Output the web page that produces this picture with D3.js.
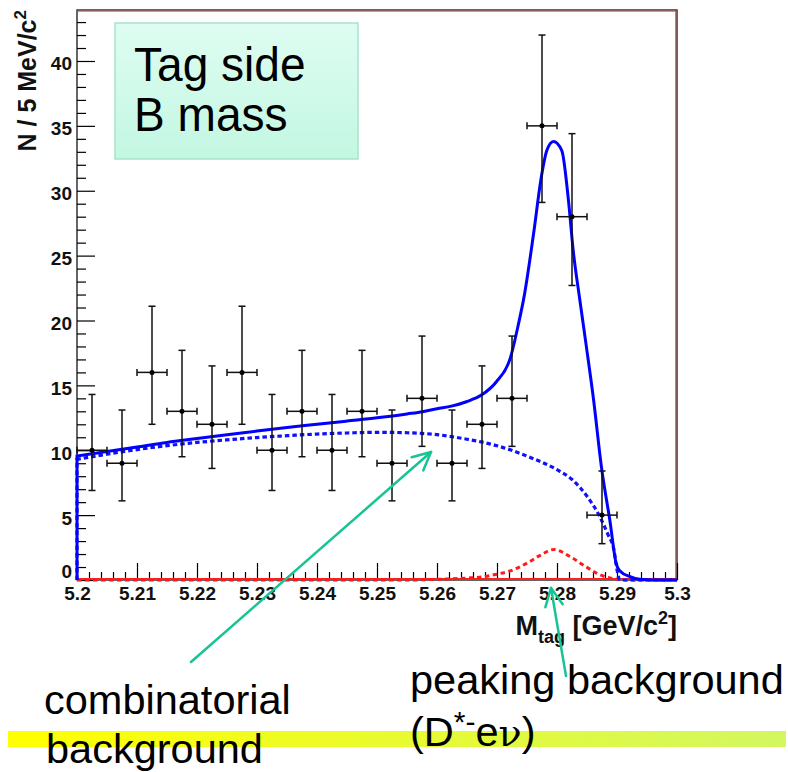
<!DOCTYPE html>
<html>
<head>
<meta charset="utf-8">
<script src="https://cdn.jsdelivr.net/npm/d3@7"></script>
<style>
  body { margin: 0; background: #fff; }
</style>
</head>
<body>
<script>
// data (5 MeV bins)
const binCenters = [5.2025, 5.2075, 5.2125, 5.2175, 5.2225, 5.2275, 5.2325, 5.2375, 5.2425,
    5.2475, 5.2525, 5.2575, 5.2625, 5.2675, 5.2725, 5.2775, 5.2825, 5.2875];
const counts = [10, 9, 16, 13, 12, 16, 10, 13, 10, 13, 9, 14, 9, 12, 14, 35, 28, 5];
const errLow = [6.9, 6.1, 12.0, 9.5, 8.6, 12.0, 6.9, 9.5, 6.9, 9.5, 6.1, 10.3, 6.1, 8.6, 10.3, 29.1, 22.7, 2.8];
const errHigh = [14.3, 13.1, 21.1, 17.7, 16.5, 21.1, 14.3, 17.7, 14.3, 17.7, 13.1, 18.8, 13.1, 16.5, 18.8, 42.0, 34.4, 8.4];
const binWidth = 0.005;

// total fit (solid blue)
const totalFit = [
    [5.2, 9.55], [5.205, 9.9], [5.21, 10.25], [5.215, 10.6], [5.22, 10.9], [5.225, 11.2],
    [5.23, 11.48], [5.235, 11.75], [5.24, 12.0], [5.245, 12.25], [5.25, 12.5], [5.255, 12.8],
    [5.2576, 12.97], [5.26, 13.2], [5.2624, 13.4], [5.2649, 13.74], [5.2674, 14.25],
    [5.2699, 15.28], [5.2722, 17.08], [5.2736, 19.78], [5.2745, 21.8], [5.2761, 26.7],
    [5.2774, 31.1], [5.2783, 33.1], [5.2794, 33.8], [5.2808, 33.1], [5.2819, 29.3],
    [5.2827, 25.4], [5.2838, 21.6], [5.2849, 17.97], [5.2861, 13.87], [5.2874, 8.73],
    [5.2888, 4.62], [5.2899, 1.2], [5.2905, 0.7], [5.2922, 0.25], [5.2938, 0.05],
    [5.296, 0], [5.3, 0]
];
// combinatorial background (dashed blue)
const combFit = [
    [5.2, 9.3], [5.205, 9.7], [5.21, 10.05], [5.215, 10.35], [5.22, 10.6], [5.225, 10.8],
    [5.23, 10.98], [5.235, 11.12], [5.24, 11.25], [5.245, 11.33], [5.25, 11.38], [5.255, 11.35],
    [5.26, 11.2], [5.265, 10.85], [5.27, 10.35], [5.275, 9.55], [5.28, 8.5], [5.2825, 7.75],
    [5.285, 6.45], [5.287, 5.0], [5.2885, 3.5], [5.2895, 2.3], [5.29, 0.8], [5.2905, 0],
    [5.3, 0]
];
// peaking background (dashed red)
const peakFit = [
    [5.2, 0], [5.255, 0], [5.26, 0.05], [5.265, 0.15], [5.2677, 0.25], [5.27, 0.45],
    [5.2722, 0.7], [5.275, 1.3], [5.2772, 1.9], [5.2795, 2.35], [5.2822, 1.8], [5.2849, 1.0],
    [5.2872, 0.4], [5.2894, 0.1], [5.292, 0], [5.3, 0]
];

const xTicks = [5.2, 5.21, 5.22, 5.23, 5.24, 5.25, 5.26, 5.27, 5.28, 5.29, 5.3];
const xTickLabels = ['5.2', '5.21', '5.22', '5.23', '5.24', '5.25', '5.26', '5.27', '5.28', '5.29', '5.3'];
const yTicks = [0, 5, 10, 15, 20, 25, 30, 35, 40];
const yTickLabels = ['0', '5', '10', '15', '20', '25', '30', '35', '40'];

const W = 788, H = 772;
const frame = { left: 77, right: 677, top: 10, bottom: 580 };
const green = '#17c495';

const svg = d3.select('body')
    .append('svg')
    .attr('width', W)
    .attr('height', H)
    .attr('font-family', "'Liberation Sans', Arial, sans-serif");

const defs = svg.append('defs');
const boxGrad = defs.append('linearGradient').attr('id', 'boxGrad')
    .attr('x1', 0).attr('y1', 0).attr('x2', 0).attr('y2', 1);
boxGrad.append('stop').attr('offset', 0).attr('stop-color', '#defdf2');
boxGrad.append('stop').attr('offset', 1).attr('stop-color', '#c3f7e2');
const bandGrad = defs.append('linearGradient').attr('id', 'bandGrad')
    .attr('x1', 0).attr('y1', 0).attr('x2', 1).attr('y2', 0);
bandGrad.append('stop').attr('offset', 0).attr('stop-color', '#ffff00');
bandGrad.append('stop').attr('offset', 1).attr('stop-color', '#d2f760');

const x = d3.scaleLinear().domain([5.2, 5.3]).range([frame.left, frame.right]);
const y = d3.scaleLinear().domain([0, 43.93]).range([frame.bottom, frame.top]);

// frame
svg.append('rect')
    .attr('x', frame.left)
    .attr('y', frame.top)
    .attr('width', frame.right - frame.left)
    .attr('height', frame.bottom - frame.top)
    .attr('fill', '#fff')
    .attr('stroke', '#000')
    .attr('stroke-width', 1.2);
svg.append('line')
    .attr('x1', frame.left).attr('x2', frame.right)
    .attr('y1', frame.top + 1.2).attr('y2', frame.top + 1.2)
    .attr('stroke', '#e05050').attr('stroke-width', 1);
svg.append('line')
    .attr('x1', frame.right - 1.2).attr('x2', frame.right - 1.2)
    .attr('y1', frame.top).attr('y2', frame.bottom)
    .attr('stroke', '#c04040').attr('stroke-width', 1);

// axes
const xMinor = d3.range(0, 51).filter(i => i % 5 != 0).map(i => 5.2 + i * 0.002);
const yMinor = d3.range(0, 44).filter(i => i % 5 != 0);

const xAxis = svg.append('g')
    .attr('transform', `translate(0,${frame.bottom})`)
    .call(d3.axisBottom(x).tickValues(xTicks).tickSize(-17).tickPadding(7)
        .tickFormat((d, i) => xTickLabels[i]));
svg.append('g')
    .attr('transform', `translate(0,${frame.bottom})`)
    .call(d3.axisBottom(x).tickValues(xMinor).tickSize(-8).tickFormat(''));

const yAxis = svg.append('g')
    .attr('transform', `translate(${frame.left},0)`)
    .call(d3.axisLeft(y).tickValues(yTicks).tickSize(-18).tickPadding(5)
        .tickFormat((d, i) => yTickLabels[i]));
svg.append('g')
    .attr('transform', `translate(${frame.left},0)`)
    .call(d3.axisLeft(y).tickValues(yMinor).tickSize(-9).tickFormat(''));

svg.selectAll('.domain').remove();
svg.selectAll('.tick line').attr('stroke', '#000').attr('stroke-width', 1.2);
svg.selectAll('.tick text')
    .attr('font-family', "'Liberation Sans', Arial, sans-serif")
    .attr('font-size', 19)
    .attr('font-weight', 'bold')
    .attr('fill', '#111');
// the "0" label sits a bit higher so it clears the "5.2" below it
yAxis.selectAll('.tick text').attr('dy', d => d == 0 ? '-0.12em' : '0.47em');

// axis titles
const xTitle = svg.append('text')
    .attr('x', frame.right)
    .attr('y', 635)
    .attr('text-anchor', 'end')
    .attr('font-size', 27)
    .attr('font-weight', 'bold')
    .attr('fill', '#111');
xTitle.append('tspan').text('M');
xTitle.append('tspan').attr('font-size', 18).attr('dy', 8).text('tag');
xTitle.append('tspan').attr('dy', -8).text(' [GeV/c');
xTitle.append('tspan').attr('font-size', 18).attr('dy', -11).text('2');
xTitle.append('tspan').attr('dy', 11).text(']');

const yTitle = svg.append('text')
    .attr('transform', `translate(36,${frame.top}) rotate(-90)`)
    .attr('text-anchor', 'end')
    .attr('font-size', 25)
    .attr('font-weight', 'bold')
    .attr('fill', '#111');
yTitle.append('tspan').text('N / 5 MeV/c');
yTitle.append('tspan').attr('font-size', 17).attr('dy', -10).text('2');

// red zero line
svg.append('line')
    .attr('x1', x(5.2)).attr('x2', x(5.3))
    .attr('y1', y(0) - 1).attr('y2', y(0) - 1)
    .attr('stroke', '#ff2020')
    .attr('stroke-width', 2);

// fit curves
const line = d3.line()
    .x(d => x(d[0]))
    .y(d => y(d[1]))
    .curve(d3.curveMonotoneX);
const edge = d3.line().x(d => x(d[0])).y(d => y(d[1]));

svg.append('path')
    .attr('d', line(peakFit))
    .attr('fill', 'none')
    .attr('stroke', '#ff1a1a')
    .attr('stroke-width', 3)
    .attr('stroke-dasharray', '4.5,3.5');

svg.append('path')
    .attr('d', edge([[5.2, 0], combFit[0]]) + line(combFit).replace('M', 'L'))
    .attr('fill', 'none')
    .attr('stroke', '#1010ff')
    .attr('stroke-width', 3.2)
    .attr('stroke-dasharray', '4.5,3');

svg.append('path')
    .attr('d', edge([[5.2, 0], totalFit[0]]) + line(totalFit).replace('M', 'L'))
    .attr('fill', 'none')
    .attr('stroke', '#0000ff')
    .attr('stroke-width', 3);

// data points with errors
const pts = svg.append('g')
    .attr('stroke', '#111')
    .attr('stroke-width', 1.5);
const idx = d3.range(binCenters.length).filter(i => counts[i] > 0);

pts.selectAll('.ev')
    .data(idx)
    .enter()
    .append('line')
    .attr('x1', i => x(binCenters[i])).attr('x2', i => x(binCenters[i]))
    .attr('y1', i => y(errLow[i])).attr('y2', i => y(errHigh[i]));
pts.selectAll('.eh')
    .data(idx)
    .enter()
    .append('line')
    .attr('x1', i => x(binCenters[i] - binWidth / 2)).attr('x2', i => x(binCenters[i] + binWidth / 2))
    .attr('y1', i => y(counts[i])).attr('y2', i => y(counts[i]));
// caps
[errLow, errHigh].forEach(arr => {
    pts.selectAll(null)
        .data(idx)
        .enter()
        .append('line')
        .attr('x1', i => x(binCenters[i]) - 3.5).attr('x2', i => x(binCenters[i]) + 3.5)
        .attr('y1', i => y(arr[i])).attr('y2', i => y(arr[i]));
});
[-1, 1].forEach(s => {
    pts.selectAll(null)
        .data(idx)
        .enter()
        .append('line')
        .attr('x1', i => x(binCenters[i] + s * binWidth / 2)).attr('x2', i => x(binCenters[i] + s * binWidth / 2))
        .attr('y1', i => y(counts[i]) - 3.5).attr('y2', i => y(counts[i]) + 3.5);
});
pts.selectAll('circle')
    .data(idx)
    .enter()
    .append('circle')
    .attr('cx', i => x(binCenters[i]))
    .attr('cy', i => y(counts[i]))
    .attr('r', 2.5)
    .attr('fill', '#000')
    .attr('stroke', 'none');

// "Tag side B mass" box
svg.append('rect')
    .attr('x', 115).attr('y', 23)
    .attr('width', 243).attr('height', 136)
    .attr('fill', 'url(#boxGrad)')
    .attr('stroke', '#a6e4cb')
    .attr('stroke-width', 1.5);
['Tag side', 'B mass'].forEach((t, i) => {
    svg.append('text')
        .attr('transform', `translate(134,${81 + i * 50}) scale(0.96,1)`)
        .attr('font-size', 48)
        .attr('fill', '#000')
        .text(t);
});

// yellow band
svg.append('rect')
    .attr('x', 8).attr('y', 731)
    .attr('width', 778).attr('height', 16)
    .attr('fill', 'url(#bandGrad)');

// annotations
function arrow(x1, y1, x2, y2) {
    const a = Math.atan2(y1 - y2, x1 - x2);
    const len = 20, spread = 26 * Math.PI / 180;
    const g = svg.append('g')
        .attr('stroke', green)
        .attr('stroke-width', 2.5)
        .attr('stroke-linecap', 'round')
        .attr('fill', 'none');
    g.append('line').attr('x1', x1).attr('y1', y1).attr('x2', x2).attr('y2', y2);
    [-spread, spread].forEach(s => {
        g.append('line')
            .attr('x1', x2).attr('y1', y2)
            .attr('x2', x2 + len * Math.cos(a + s))
            .attr('y2', y2 + len * Math.sin(a + s));
    });
}
arrow(191, 662, 431, 452);
arrow(566, 676, 551, 588);

svg.append('text')
    .attr('x', 44).attr('y', 714)
    .attr('font-size', 41.5)
    .text('combinatorial');
svg.append('text')
    .attr('x', 46).attr('y', 763)
    .attr('font-size', 41.5)
    .text('background');

svg.append('text')
    .attr('x', 410).attr('y', 694)
    .attr('font-size', 41.5)
    .text('peaking background');
const dText = svg.append('text')
    .attr('x', 410).attr('y', 746)
    .attr('font-size', 41.5);
dText.append('tspan').text('(D');
dText.append('tspan').attr('font-size', 30).attr('dy', -14).text('*-');
dText.append('tspan').attr('dy', 14).text('e');
dText.append('tspan').attr('font-family', "'DejaVu Serif', serif").attr('font-size', 38).text('ν');
dText.append('tspan').text(')');
</script>
</body>
</html>
